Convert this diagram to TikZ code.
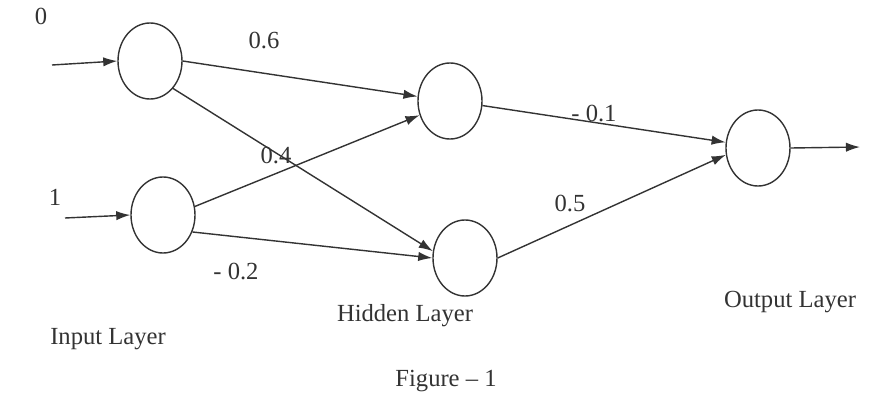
\documentclass[tikz,border=0pt]{standalone}
\usepackage{fontspec}
\setmainfont{Liberation Serif}
\usetikzlibrary{arrows.meta,positioning,shapes.geometric}
\definecolor{nnInk}{HTML}{333333}

\begin{document}
\begin{tikzpicture}[x=0.015cm,y=-0.015cm,font=\fontsize{10.5}{12}\selectfont,
   neuron/.style={draw=nnInk,ellipse,line width=0.6pt,inner sep=0pt,
                  minimum width=0.96cm,minimum height=1.14cm},
   link/.style={draw=nnInk,line width=0.6pt,-{Latex[length=6pt,width=4pt]}},
   wlabel/.style={text=nnInk,inner sep=1pt}]
  \useasboundingbox (0,0) rectangle (878,394);
  % neurons
  \node[neuron] (i1) at (150,61) {};
  \node[neuron] (i2) at (163,215) {};
  \node[neuron] (h1) at (450,101) {};
  \node[neuron] (h2) at (465,258) {};
  \node[neuron] (o)  at (758,148) {};
  \coordinate (x0) at (52,65);
  \coordinate (x1) at (65,218);
  \coordinate (y)  at (860,147);
  % connections
  \draw[link] (x0) -- (i1.west);
  \draw[link] (x1) -- (i2.west);
  \draw[link] (i1.east) -- (h1.172);
  \draw[link] (i1.-50) -- (h2.168);
  \draw[link] (i2.15) -- (h1.205);
  \draw[link] (i2.-30) -- (h2.west);
  \draw[link] (h1.-8) -- (o.170);
  \draw[link] (h2.east) -- (o.192);
  \draw[link] (o.east) -- (y);
  % weights and inputs
  \node[wlabel] (in0) at (41,16) {0};
  \node[wlabel] (in1) at (55,197) {1};
  \node[wlabel] (w1) at (264,40) {0.6};
  \node[wlabel] (w2) at (276,155) {0.4};
  \node[wlabel] (w3) at (236,271) {- 0.2};
  \node[wlabel] (w4) at (594,113) {- 0.1};
  \node[wlabel] (w5) at (570,203) {0.5};
  % layer names
  \node[wlabel] (lin)  at (108,339) {Input Layer};
  \node[wlabel] (lhid) at (405,316) {Hidden Layer};
  \node[wlabel] (lout) at (790,302) {Output Layer};
  \node[wlabel] (cap)  at (446,381) {Figure -- 1};
\end{tikzpicture}
\end{document}
